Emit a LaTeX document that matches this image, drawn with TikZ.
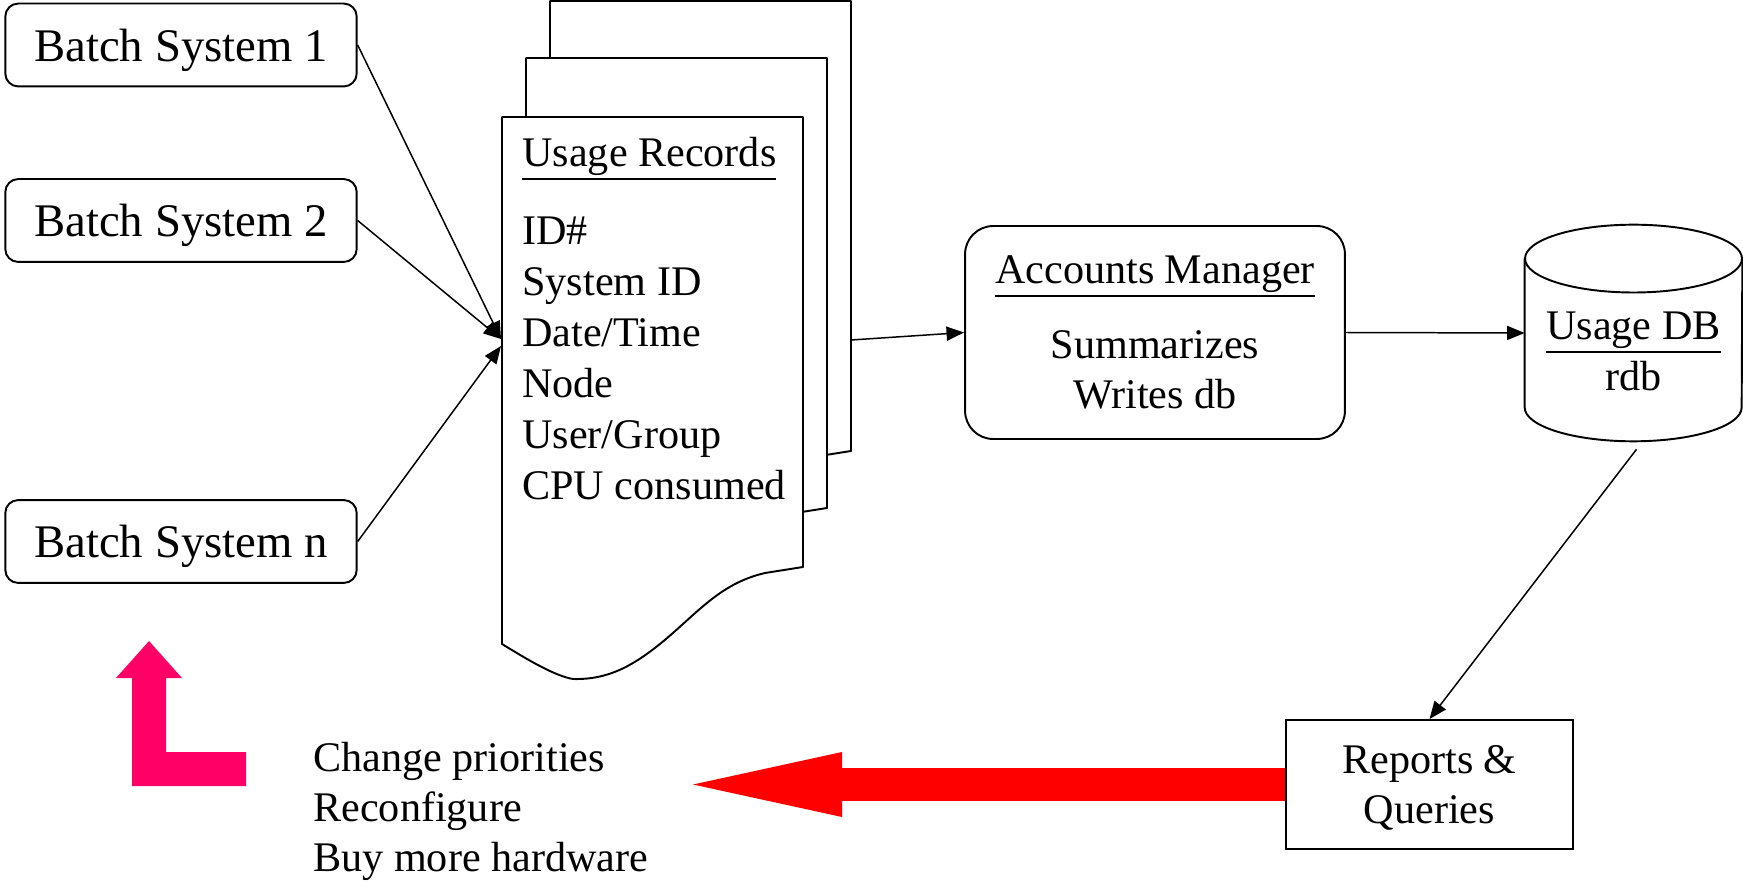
\documentclass[tikz,border=0pt]{standalone}
\usepackage{fontspec}
\setmainfont{Liberation Serif}
\usetikzlibrary{arrows.meta,calc}
\definecolor{hotpink}{HTML}{FF0066}
\definecolor{fixred}{HTML}{FF0000}
\newcommand{\bodyfont}{\fontsize{24}{28.5}\selectfont}
\newcommand{\undertext}[1]{% underline close to the descenders
\leavevmode\vtop{\hbox{#1}\kern1.2pt\hrule height 1.1pt}}
\tikzstyle{batchbox} = [
    draw,
    line width=1.1pt,
    rounded corners=7.4pt,
    minimum width=200pt,
    minimum height=47.2pt,
    text depth=0pt,
    font=\fontsize{26.6}{31}\selectfont
    ]
\tikzstyle{mgrbox} = [
    draw,
    line width=1.1pt,
    rounded corners=16pt,
    minimum width=216.2pt,
    minimum height=121.2pt,
    align=center,
    font=\bodyfont
    ]
\tikzstyle{querybox} = [
    draw,
    line width=1.1pt,
    minimum width=163.3pt,
    minimum height=73.4pt,
    text depth=0pt,
    align=center,
    font=\bodyfont
    ]
\tikzstyle{plaintext} = [
    inner sep=0pt,
    font=\bodyfont
    ]
\tikzstyle{sheetline} = [
    draw,
    fill=white,
    line width=1.1pt,
    line join=round
    ]
\tikzstyle{feed} = [
    line width=0.85pt,
    -{Triangle[length=10pt,width=8pt]}
    ]
\tikzstyle{fixarrow} = [
    fixred,
    line width=18.8pt,
    -{Triangle[length=84.8pt,width=37pt,line width=0pt]}
    ]
\newcommand{\recordsheet}[1]{% one page of the record stack
  \draw[sheetline, shift={(#1)}] (502,117) -- (803,117) -- (803,567) -- (765,573)
    .. controls (722,583) and (700,610) .. (666,639)
    .. controls (636,664) and (610,680) .. (573,679)
    .. controls (555,676) and (528,660) .. (502,644) -- cycle;
}

\begin{document}
\begin{tikzpicture}[x=0.02cm, y=-0.02cm]
\useasboundingbox (0,0) rectangle (1743,884);

% batch systems
\node[batchbox] (bs1) at (181,45) {Batch System 1};
\node[batchbox] (bs2) at (181,220.5) {Batch System 2};
\node[batchbox] (bsn) at (181,541.5) {Batch System n};

% stack of usage records
\recordsheet{48,-116}
\recordsheet{24,-59}
\recordsheet{0,0}
\node[plaintext, align=left, anchor=north west, font=\fontsize{24}{29.1}\selectfont] (recs) at (522,137)
  {\undertext{Usage Records}\\[15pt]ID\#\\System ID\\Date/Time\\Node\\User/Group\\CPU consumed};
\coordinate (recin) at (501,339);
\coordinate (recin2) at (501,346);
\coordinate (pageout) at (851,340);

\draw[feed] (bs1.east) -- (recin);
\draw[feed] (bs2.east) -- (recin);
\draw[feed] (bsn.east) -- (recin2);

% manager and database
\node[mgrbox] (mgr) at (1155,332.5) {\undertext{Accounts Manager}\\[13.7pt]Summarizes\\Writes db};
\node[minimum width=123.5pt, minimum height=122.9pt, inner sep=0pt] (usagedb) at (1633.5,333) {};
\draw[line width=1.1pt] ([yshift=-19.3pt]usagedb.north west) -- ([yshift=19.3pt]usagedb.south west)
  arc[start angle=180, end angle=360, x radius=61.75pt, y radius=19.3pt]
  -- ([yshift=-19.3pt]usagedb.north east);
\draw[line width=1.1pt] ([yshift=-19.3pt]usagedb.north) ellipse [x radius=61.75pt, y radius=19.3pt];
\node[plaintext, align=center, anchor=north] (dblabel) at (1633.5,312) {\undertext{Usage DB}\\rdb};

\draw[feed] (pageout) -- (mgr.west);
\draw[feed] (mgr.east) -- (usagedb.west);

% reports and feedback
\node[querybox] (reports) at (1429.5,784.5) {Reports \&\\Queries};
\draw[feed] ($(usagedb.south)+(3,8)$) -- (reports.north);

\node[plaintext, align=left, anchor=north west] (fixes) at (313,742)
  {Change priorities\\Reconfigure\\Buy more hardware};
\coordinate (fixtip) at (693,784.5);
\draw[fixarrow] (reports.west) -- (fixtip);

\fill[hotpink] (246,752) -- (246,786) -- (132,786) -- (132,678) -- (116,678) -- (149,641)
  -- (182,678) -- (166,678) -- (166,752) -- cycle;
\end{tikzpicture}
\end{document}
